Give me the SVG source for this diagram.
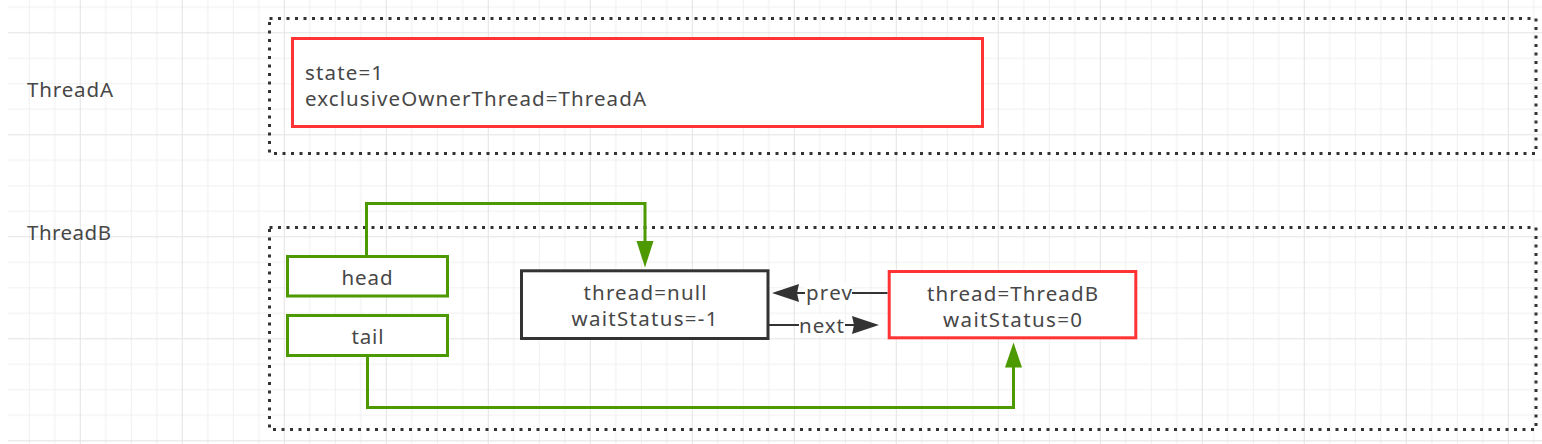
<svg xmlns="http://www.w3.org/2000/svg" width="1542" height="444" viewBox="0 0 1542 444">
<style>
.t{font-family:"Noto Sans","Open Sans","Liberation Sans",sans-serif;font-size:20.5px;fill:#474747}
.m{text-anchor:middle}
.dot{fill:none;stroke:#333;stroke-width:3;stroke-dasharray:3 5.5}
.red{fill:#fff;stroke:#ff3333;stroke-width:3}
.grn{fill:#fff;stroke:#4d9900;stroke-width:3}
.blk{fill:#fff;stroke:#333;stroke-width:3}
.gl{fill:none;stroke:#4d9900;stroke-width:3}
.dl{fill:none;stroke:#333;stroke-width:2}
</style>
<defs>
<pattern id="grid" patternUnits="userSpaceOnUse" x="79.8" y="32.3" width="102" height="102">
<rect x="0" y="0" width="102" height="102" fill="#fff"/>
<rect x="25.5" y="0" width="1" height="102" fill="#f0f0f0"/>
<rect x="51" y="0" width="1" height="102" fill="#f0f0f0"/>
<rect x="76.5" y="0" width="1" height="102" fill="#f0f0f0"/>
<rect x="0" y="25.5" width="102" height="1" fill="#f0f0f0"/>
<rect x="0" y="51" width="102" height="1" fill="#f0f0f0"/>
<rect x="0" y="76.5" width="102" height="1" fill="#f0f0f0"/>
<rect x="0" y="0" width="1" height="102" fill="#e3e3e3"/>
<rect x="0" y="0" width="102" height="1" fill="#e3e3e3"/>
</pattern>
</defs>
<rect x="0" y="0" width="1542" height="444" fill="#fff"/>
<rect x="8" y="0" width="1534" height="444" fill="url(#grid)"/>

<g id="labelA"><text class="t" x="27" y="97" textLength="86" lengthAdjust="spacing">ThreadA</text></g>
<g id="labelB"><text class="t" x="27" y="240" textLength="84" lengthAdjust="spacing">ThreadB</text></g>

<g id="containerA"><rect class="dot" x="269.5" y="18.5" width="1266.5" height="135"/></g>
<g id="containerB"><rect class="dot" x="269.5" y="227.5" width="1266.5" height="202"/></g>

<g id="stateA">
<rect class="red" x="292.5" y="38.5" width="690" height="88"/>
<text class="t" x="305" y="80" textLength="78" lengthAdjust="spacing">state=1</text>
<text class="t" x="305" y="106" textLength="341" lengthAdjust="spacing">exclusiveOwnerThread=ThreadA</text>
</g>

<g id="head">
<rect class="grn" x="287.5" y="256.5" width="160" height="39.5"/>
<text class="t m" x="367" y="285" textLength="51" lengthAdjust="spacing">head</text>
</g>
<g id="tail">
<rect class="grn" x="287.5" y="315.5" width="160" height="40"/>
<text class="t m" x="367.5" y="344" textLength="32" lengthAdjust="spacing">tail</text>
</g>

<g id="nodeNull">
<rect class="blk" x="521.5" y="270.8" width="246.5" height="67.7"/>
<text class="t m" x="645" y="300" textLength="123" lengthAdjust="spacing">thread=null</text>
<text class="t m" x="644.5" y="325.5" textLength="146" lengthAdjust="spacing">waitStatus=-1</text>
</g>

<g id="nodeB">
<rect class="red" x="889.2" y="271.5" width="246.6" height="66.3"/>
<text class="t m" x="1012.5" y="300.5" textLength="171" lengthAdjust="spacing">thread=ThreadB</text>
<text class="t m" x="1012.5" y="326.5" textLength="139" lengthAdjust="spacing">waitStatus=0</text>
</g>

<g id="connectors">
<path class="gl" d="M366.5,255 V203.5 H645 V242"/>
<path d="M645,267.5 L636.5,241 L653.5,241 Z" fill="#4d9900"/>
<path class="gl" d="M367.5,357 V407.5 H1013.5 V366"/>
<path d="M1013.5,342.5 L1005,367.5 L1022,367.5 Z" fill="#4d9900"/>

<path class="dl" d="M887.5,293 H797"/>
<path d="M772,293 L799,284 L797,293 L799,302 Z" fill="#333"/>
<rect x="805" y="282" width="47" height="22" fill="#fff"/>
<text class="t m" x="829" y="300" textLength="46" lengthAdjust="spacing">prev</text>

<path class="dl" d="M769,325 H854"/>
<path d="M879,325 L852,316 L854,325 L852,334 Z" fill="#333"/>
<rect x="799" y="314" width="46" height="22" fill="#fff"/>
<text class="t m" x="821.5" y="333" textLength="45" lengthAdjust="spacing">next</text>
</g>
</svg>
